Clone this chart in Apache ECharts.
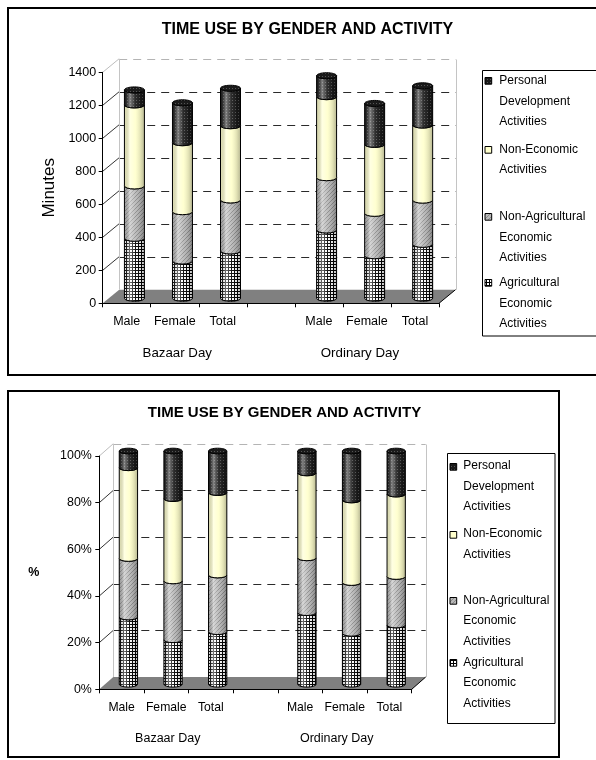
<!DOCTYPE html>
<html>
<head>
<meta charset="utf-8">
<script src="https://cdn.jsdelivr.net/npm/echarts@6/dist/echarts.min.js"></script>
<style>
  html, body { margin: 0; padding: 0; background: #ffffff; }
  #chart { width: 596px; height: 760px; }
</style>
</head>
<body>
<div id="chart"></div>
<script>
// Category slots: two day types split by gender, a blank slot between the groups
const categories = ['Male', 'Female', 'Total', '', 'Male', 'Female', 'Total'];
const barSlots = [0, 1, 2, 4, 5, 6];
const dayGroups = ['Bazaar Day', 'Ordinary Day'];
const dayGroupSlots = [1, 5];

// Minutes per day by activity (stack order: bottom first)
const agricultural    = [364, 226, 287, 414, 258, 327];
const nonAgricultural = [317, 299, 309, 317, 257, 268];
const nonEconomic     = [491, 418, 450, 491, 418, 455];
const personalDev     = [ 91, 242, 227, 127, 248, 238];

const activityNames = [
  'Agricultural Economic Activities',
  'Non-Agricultural Economic Activities',
  'Non-Economic Activities',
  'Personal Development Activities'
];
// Legend entries, listed top to bottom
const legendOrder = [3, 2, 1, 0];
const legendLines = [
  ['Agricultural', 'Economic', 'Activities'],
  ['Non-Agricultural', 'Economic', 'Activities'],
  ['Non-Economic', 'Activities'],
  ['Personal', 'Development', 'Activities']
];

const chartTitle = 'TIME USE BY GENDER AND ACTIVITY';
const minuteTicks = [0, 200, 400, 600, 800, 1000, 1200, 1400];
const percentTicks = [0, 20, 40, 60, 80, 100];

const FONT = '"Liberation Sans", Arial, sans-serif';

// ---- fill patterns -------------------------------------------------------
function tile(w, h, bg, draw) {
  const c = document.createElement('canvas');
  c.width = w; c.height = h;
  const g = c.getContext('2d');
  g.fillStyle = bg; g.fillRect(0, 0, w, h);
  if (draw) draw(g);
  return c;
}
const patterns = [
  tile(3, 3, '#ffffff', g => { g.fillStyle = '#000'; g.fillRect(0, 0, 3, 1); g.fillRect(0, 0, 1, 3); }),
  tile(4, 4, '#b8b8b8', g => { g.fillStyle = '#8a8a8a'; for (let i = 0; i < 4; i++) g.fillRect(i, 3 - i, 1, 1); }),
  tile(2, 2, '#ffffcc'),
  tile(3, 3, '#1a1a1a', g => { g.fillStyle = '#555'; g.fillRect(1, 1, 1, 1); })
];
const fillOf = i => ({ image: patterns[i], repeat: 'repeat' });

// cylinder shading laid over the pattern
const shade = {
  type: 'linear', x: 0, y: 0, x2: 1, y2: 0,
  colorStops: [
    { offset: 0, color: 'rgba(0,0,0,0.10)' },
    { offset: 0.28, color: 'rgba(255,255,255,0.45)' },
    { offset: 0.55, color: 'rgba(255,255,255,0.08)' },
    { offset: 0.8, color: 'rgba(0,0,0,0.12)' },
    { offset: 1, color: 'rgba(0,0,0,0.30)' }
  ]
};

// ---- data stacks -------------------------------------------------------
const minuteSeries = [agricultural, nonAgricultural, nonEconomic, personalDev];
const dayTotals = barSlots.map((_, i) => minuteSeries.reduce((s, arr) => s + arr[i], 0));
const percentSeries = minuteSeries.map(arr => arr.map((v, i) => v / dayTotals[i] * 100));

function stacked(seriesList) {
  const base = barSlots.map(() => 0);
  return seriesList.map(arr => arr.map((v, i) => {
    const lo = base[i];
    base[i] += v;
    return [barSlots[i], lo, base[i]];
  }));
}

// ---- panel layouts -------------------------------------------------------
const panels = [
  {
    grid: { left: 102.7, top: 72.3, width: 336.3, height: 231 },
    ticks: minuteTicks, depth: [16.5, -13.6], barShift: [7.7, -5], barFrac: 0.416, ry: 3,
    stacks: stacked(minuteSeries), labelFmt: v => String(v), yName: 'Minutes',
    yNameStyle: { fontSize: 17, fontWeight: 'normal' }, yNameRotate: 90, yNameGap: 44,
    tickFont: 12.5, catFont: 12.5, groupFont: 13.3, groupDy: 50, groupNudge: [2.5, -7],
    yLabelMargin: 6.5,
    title: { x: 307.5, y: 30, size: 16 },
    legend: { box: [482.5, 70.5, 200, 265.5], sym: 485, text: 499.3, size: 6.7, first: [80.7, 149.3, 216.7, 282.7], lh: 20.5 }
  },
  {
    grid: { left: 99.3, top: 456, width: 312.4, height: 233.3 },
    ticks: percentTicks, depth: [14, -12.3], barShift: [6.8, -5], barFrac: 0.41, ry: 2.8,
    stacks: stacked(percentSeries), labelFmt: v => v + '%', yName: '%',
    yNameStyle: { fontSize: 12.5, fontWeight: 'bold' }, yNameRotate: 0, yNameGap: 60,
    tickFont: 12.4, catFont: 12.2, groupFont: 12.5, groupDy: 49, groupNudge: [1.5, -8],
    yLabelMargin: 7.5,
    title: { x: 284.5, y: 412.7, size: 15 },
    legend: { box: [447.5, 453.5, 107.5, 270], sym: 450, text: 463.3, size: 6.7, first: [466, 534, 600.7, 662.7], lh: 20.3 }
  }
];

// ---- renderers -------------------------------------------------------
function wallRenderer(panel) {
  const top = panel.ticks[panel.ticks.length - 1];
  return function (params, api) {
    const cs = params.coordSys;
    const v = api.value(1);
    const y = api.coord([0, v])[1];
    const dx = panel.depth[0], dy = panel.depth[1];
    const x0 = cs.x, x1 = cs.x + cs.width;
    if (v === 0) {
      return {
        type: 'group', children: [
          { type: 'polygon', shape: { points: [[x0, y], [x1, y], [x1 + dx, y + dy], [x0 + dx, y + dy]] },
            style: { fill: '#808080' } },
          { type: 'line', shape: { x1: x1, y1: y, x2: x1 + dx, y2: y + dy }, style: { stroke: '#000', lineWidth: 1 } }
        ]
      };
    }
    const isTop = v === top;
    const yb = Math.round(y + dy) + 0.5;
    const children = [
      { type: 'line', shape: { x1: x0, y1: y, x2: x0 + dx, y2: y + dy },
        style: { stroke: isTop ? '#bdbdbd' : '#333', lineWidth: 1 } },
      { type: 'line', shape: { x1: x0 + dx, y1: yb, x2: x1 + dx, y2: yb },
        style: { stroke: isTop ? '#b4b4b4' : '#2a2a2a', lineWidth: 1, lineDash: [8, 6] } }
    ];
    if (isTop) {
      const yFloor = api.coord([0, 0])[1] + dy;
      const xl = Math.round(x0 + dx) + 0.5, xr = Math.round(x1 + dx) + 0.5;
      children.push({ type: 'line', shape: { x1: xl, y1: yb, x2: xl, y2: yFloor }, style: { stroke: '#c4c4c4', lineWidth: 1 } });
      children.push({ type: 'line', shape: { x1: xr, y1: yb, x2: xr, y2: yFloor }, style: { stroke: '#c4c4c4', lineWidth: 1 } });
    }
    return { type: 'group', children: children };
  };
}

function segmentRenderer(panel, k) {
  const isTopSeg = k === minuteSeries.length - 1;
  return function (params, api) {
    const slot = api.value(0), lo = api.value(1), hi = api.value(2);
    const pLo = api.coord([slot, lo]), pHi = api.coord([slot, hi]);
    const band = api.size([1, 0])[0];
    const rx = band * panel.barFrac / 2, ry = panel.ry;
    const cx = pLo[0] + panel.barShift[0];
    const yB = pLo[1] + panel.barShift[1], yT = pHi[1] + panel.barShift[1];
    const L = cx - rx, R = cx + rx;
    const d = 'M' + L + ',' + yT + ' A' + rx + ',' + ry + ' 0 0 0 ' + R + ',' + yT +
              ' L' + R + ',' + yB + ' A' + rx + ',' + ry + ' 0 0 1 ' + L + ',' + yB + ' Z';
    const children = [
      { type: 'path', shape: { pathData: d }, style: { fill: fillOf(k) } },
      { type: 'path', shape: { pathData: d }, style: { fill: shade, stroke: '#000', lineWidth: 1 } }
    ];
    if (isTopSeg) {
      children.push({ type: 'ellipse', shape: { cx: cx, cy: yT, rx: rx, ry: ry },
        style: { fill: fillOf(k), stroke: '#000', lineWidth: 1 } });
    }
    return { type: 'group', children: children };
  };
}

function groupLabelRenderer(panel) {
  return function (params, api) {
    const p = api.coord([api.value(0), 0]);
    return {
      type: 'text',
      style: {
        text: dayGroups[params.dataIndex],
        x: p[0] + panel.groupNudge[params.dataIndex], y: p[1] + panel.groupDy,
        align: 'center', verticalAlign: 'middle',
        font: panel.groupFont + 'px ' + FONT, fill: '#000'
      }
    };
  };
}

// ---- option -------------------------------------------------------
const grids = [], xAxes = [], yAxes = [], series = [], titles = [], graphics = [];

// outer frames
graphics.push({ type: 'rect', shape: { x: 8, y: 8, width: 640, height: 367 },
  style: { fill: 'none', stroke: '#000', lineWidth: 2 }, z: 0 });
graphics.push({ type: 'rect', shape: { x: 8, y: 391, width: 551, height: 366 },
  style: { fill: 'none', stroke: '#000', lineWidth: 2 }, z: 0 });

panels.forEach((panel, gi) => {
  grids.push(Object.assign({ containLabel: false }, panel.grid));
  const axisFontCommon = { color: '#000', fontFamily: FONT };
  xAxes.push({
    gridIndex: gi, type: 'category', data: categories, boundaryGap: true, z: 10,
    axisLine: { lineStyle: { color: '#000', width: 1 } },
    axisTick: { show: true, interval: 0, length: 4, lineStyle: { color: '#000' } },
    axisLabel: Object.assign({ interval: 0, margin: 12, fontSize: panel.catFont }, axisFontCommon),
    splitLine: { show: false }
  });
  const tks = panel.ticks;
  yAxes.push({
    gridIndex: gi, type: 'value', min: tks[0], max: tks[tks.length - 1], interval: tks[1] - tks[0], z: 10,
    axisLine: { show: true, lineStyle: { color: '#000', width: 1 } },
    axisTick: { show: true, length: 4, lineStyle: { color: '#000' } },
    axisLabel: Object.assign({ margin: panel.yLabelMargin, fontSize: panel.tickFont, formatter: panel.labelFmt }, axisFontCommon),
    splitLine: { show: false },
    name: panel.yName, nameLocation: 'middle', nameGap: panel.yNameGap, nameRotate: panel.yNameRotate,
    nameTextStyle: Object.assign({ color: '#000', fontFamily: FONT }, panel.yNameStyle)
  });

  series.push({
    type: 'custom', xAxisIndex: gi, yAxisIndex: gi, z: 1, silent: true,
    renderItem: wallRenderer(panel),
    data: tks.map(v => [0, v]),
    encode: { x: 0, y: 1 }
  });
  panel.stacks.forEach((rows, k) => {
    series.push({
      type: 'custom', name: activityNames[k], xAxisIndex: gi, yAxisIndex: gi, z: 3 + k,
      renderItem: segmentRenderer(panel, k),
      data: rows,
      encode: { x: 0, y: [1, 2] }
    });
  });
  series.push({
    type: 'custom', xAxisIndex: gi, yAxisIndex: gi, z: 3, silent: true,
    renderItem: groupLabelRenderer(panel),
    data: dayGroupSlots.map(s => [s, 0]),
    encode: { x: 0, y: 1 }
  });

  titles.push({
    text: chartTitle, left: panel.title.x, top: panel.title.y - (panel.title.size + 3) / 2,
    textAlign: 'center', padding: 0,
    textStyle: { fontSize: panel.title.size, fontWeight: 'bold', color: '#000', fontFamily: FONT,
                 lineHeight: panel.title.size + 3 }
  });

  // legend box with patterned swatches
  const lg = panel.legend;
  graphics.push({ type: 'rect', shape: { x: lg.box[0], y: lg.box[1], width: lg.box[2], height: lg.box[3] },
    style: { fill: '#fff', stroke: '#000', lineWidth: 1 }, z: 1 });
  legendOrder.forEach((k, row) => {
    const cy = lg.first[row];
    graphics.push({ type: 'rect', shape: { x: lg.sym, y: Math.round(cy - lg.size / 2) + 0.5, width: lg.size, height: lg.size },
      style: { fill: fillOf(k), stroke: '#000', lineWidth: 1 }, z: 2 });
    graphics.push({ type: 'text', x: lg.text, y: cy - lg.lh / 2, z: 2,
      style: { text: legendLines[k].join('\n'), font: '12px ' + FONT, fill: '#000',
               lineHeight: lg.lh, verticalAlign: 'top', align: 'left' } });
  });
});

const chart = echarts.init(document.getElementById('chart'), null, { renderer: 'canvas' });
chart.setOption({
  backgroundColor: '#ffffff',
  animation: false,
  title: titles,
  grid: grids,
  xAxis: xAxes,
  yAxis: yAxes,
  series: series,
  graphic: graphics
});
</script>
</body>
</html>
